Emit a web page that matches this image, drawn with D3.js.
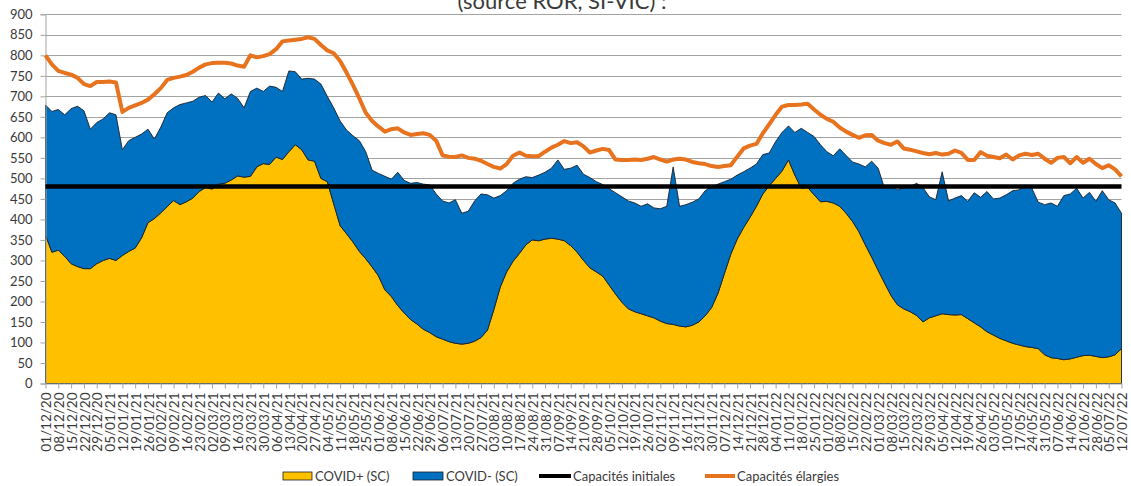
<!DOCTYPE html>
<html><head><meta charset="utf-8">
<script src="https://cdn.jsdelivr.net/npm/d3@7"></script>
<style>body{margin:0;background:#fff}svg{display:block}text{font-family:Lato,"Open Sans",sans-serif}</style>
</head><body><svg id="c" width="1131" height="486"></svg>
<script>
// Weekly x-axis labels
const weekLabels=["01/12/20","08/12/20","15/12/20","22/12/20","29/12/20","05/01/21","12/01/21","19/01/21","26/01/21","02/02/21","09/02/21","16/02/21","23/02/21","02/03/21","09/03/21","16/03/21","23/03/21","30/03/21","06/04/21","13/04/21","20/04/21","27/04/21","04/05/21","11/05/21","18/05/21","25/05/21","01/06/21","08/06/21","15/06/21","22/06/21","29/06/21","06/07/21","13/07/21","20/07/21","27/07/21","03/08/21","10/08/21","17/08/21","24/08/21","31/08/21","07/09/21","14/09/21","21/09/21","28/09/21","05/10/21","12/10/21","19/10/21","26/10/21","02/11/21","09/11/21","16/11/21","23/11/21","30/11/21","07/12/21","14/12/21","21/12/21","28/12/21","04/01/22","11/01/22","18/01/22","25/01/22","01/02/22","08/02/22","15/02/22","22/02/22","01/03/22","08/03/22","15/03/22","22/03/22","29/03/22","05/04/22","12/04/22","19/04/22","26/04/22","03/05/22","10/05/22","17/05/22","24/05/22","31/05/22","07/06/22","14/06/22","21/06/22","28/06/22","05/07/22","12/07/22"];
const yTicks=[0,50,100,150,200,250,300,350,400,450,500,550,600,650,700,750,800,850,900];
// Samples twice a week (index i = week i/2)
const covidPos=[362,320,325,310,292,285,280,280,292,300,
305,300,312,322,330,355,392,402,416,431,
446,436,443,452,468,478,474,486,488,496,
506,503,505,528,536,534,552,546,565,582,
570,545,542,500,492,438,385,365,345,322,
304,284,262,228,212,190,172,156,145,132,
124,114,108,102,98,96,98,103,112,130,
180,235,272,298,317,338,350,348,352,354,
352,348,336,320,300,282,272,262,240,218,
198,182,175,170,165,160,152,146,144,140,
138,142,150,165,185,220,268,315,352,380,
405,432,462,482,500,518,545,508,476,478,
460,443,444,440,432,415,395,370,338,308,
276,245,215,192,182,175,166,150,160,165,
170,168,167,168,158,148,138,126,118,110,
104,98,94,90,88,85,70,63,61,58,
60,64,68,69,66,63,65,70,85];
const covidNeg=[317,343,343,345,378,391,385,340,344,345,
355,355,258,270,270,253,228,194,209,229,
226,244,241,236,230,224,212,222,206,210,
189,169,207,192,176,191,170,166,197,178,
172,199,200,230,208,234,255,253,259,270,
261,236,250,277,286,325,323,332,345,354,
360,348,337,338,350,319,322,342,350,330,
272,223,198,190,181,166,152,160,163,171,
193,174,189,212,210,220,220,223,235,247,
257,263,265,262,273,268,274,286,384,292,
298,300,300,305,295,266,224,183,156,136,
120,103,96,80,90,94,83,104,146,134,
142,139,121,115,140,141,145,165,190,234,
249,231,267,280,296,305,322,328,295,283,
346,277,285,290,286,317,316,342,332,342,
356,372,378,394,388,357,366,377,371,400,
402,412,384,397,378,407,383,370,330];
const capElargies=[800,778,762,757,753,745,730,725,735,735,
736,734,662,672,678,684,692,705,720,740,
745,748,752,760,770,778,781,782,782,780,
775,772,800,795,798,803,815,834,836,838,
840,844,840,825,812,805,786,758,728,695,
660,640,626,614,620,622,612,606,608,610,
606,592,556,553,552,556,550,548,543,535,
528,524,535,555,563,555,554,554,565,575,
582,591,586,588,578,563,568,572,569,546,
545,545,546,545,548,552,546,541,546,548,
546,540,537,535,530,528,530,532,553,573,
580,584,610,632,655,675,679,679,680,682,
668,655,645,638,624,614,606,599,605,606,
592,586,582,590,573,570,566,562,559,562,
558,560,568,562,545,545,564,555,552,549,
558,546,556,560,557,560,548,538,550,552,
537,552,538,548,535,525,532,522,505];
const capInitiales=480;
const seriesNames=["COVID+ (SC)","COVID- (SC)","Capacités initiales","Capacités élargies"];
const colors={pos:"#FFC000",neg:"#0070C0",init:"#000000",elarg:"#E8731F",outline:"#17202c",grid:"#a3a3a3",text:"#3a3a3a"};

const svg=d3.select("#c");
const x=d3.scaleLinear().domain([0,weekLabels.length-1]).range([45.5,1121.5]);
const y=d3.scaleLinear().domain([0,900]).range([383.5,14.3]);

const table=covidPos.map((p,i)=>({w:i/2,pos:p,neg:covidNeg[i],el:capElargies[i]}));
const stack=d3.stack().keys(["pos","neg"])(table);

// title (cut at top as in the source image)
svg.append("text").attr("x",562).attr("y",9).attr("text-anchor","middle")
  .attr("font-size",22).attr("fill",colors.text).text("(source ROR, SI-VIC) :");

// gridlines
svg.append("g").selectAll("line").data(yTicks.filter(t=>t>0)).join("line")
  .attr("x1",45.5).attr("x2",1121.5).attr("y1",d=>Math.round(y(d))+0.5).attr("y2",d=>Math.round(y(d))+0.5)
  .attr("stroke",colors.grid).attr("stroke-width",1);

// areas
const area=d3.area().x(d=>x(d.data.w)).y0(d=>y(d[0])).y1(d=>y(d[1]));
svg.append("g").selectAll("path").data(stack).join("path")
  .attr("d",area).attr("fill",(d,i)=>i===0?colors.pos:colors.neg)
  .attr("stroke",colors.outline).attr("stroke-width",0.9).attr("stroke-linejoin","round");

// axes
const yAxis=d3.axisLeft(y).tickValues(yTicks).tickSize(5).tickPadding(8);
const gy=svg.append("g").attr("transform","translate(45.5,0)").call(yAxis);
gy.select(".domain").attr("stroke",colors.grid);
gy.selectAll(".tick line").attr("stroke",colors.grid);
gy.selectAll(".tick text").attr("font-size",13).attr("fill",colors.text).attr("font-family","Lato");

const xAxis=d3.axisBottom(x).tickValues(d3.range(weekLabels.length)).tickFormat(i=>weekLabels[i]).tickSize(5).tickSizeOuter(0);
const gx=svg.append("g").attr("transform","translate(0,383.5)").call(xAxis);
gx.select(".domain").attr("stroke",colors.grid);
gx.selectAll(".tick line").attr("stroke",colors.grid);
gx.selectAll(".tick text").attr("font-size",13.5).attr("fill",colors.text).attr("font-family","Lato")
  .attr("transform","rotate(-90)").attr("text-anchor","end").attr("x",-9).attr("y",0).attr("dy","0.38em");

// capacités initiales
svg.append("line").attr("x1",x(0)).attr("x2",x(weekLabels.length-1))
  .attr("y1",y(capInitiales)).attr("y2",y(capInitiales))
  .attr("stroke",colors.init).attr("stroke-width",4.5);

// capacités élargies
svg.append("path").datum(table).attr("fill","none").attr("stroke",colors.elarg).attr("stroke-width",4)
  .attr("stroke-linejoin","round").attr("d",d3.line().x(d=>x(d.w)).y(d=>y(d.el)));

// legend
const lg=svg.append("g").attr("font-size",13).attr("fill",colors.text);
const ly=476;
lg.append("rect").attr("x",283).attr("y",ly-4).attr("width",29).attr("height",8).attr("fill",colors.pos).attr("stroke",colors.outline).attr("stroke-width",0.8);
lg.append("text").attr("x",315).attr("y",ly).attr("dy","0.35em").text(seriesNames[0]);
lg.append("rect").attr("x",413).attr("y",ly-4).attr("width",30).attr("height",8).attr("fill",colors.neg).attr("stroke",colors.outline).attr("stroke-width",0.8);
lg.append("text").attr("x",446).attr("y",ly).attr("dy","0.35em").text(seriesNames[1]);
lg.append("line").attr("x1",539).attr("x2",571).attr("y1",ly).attr("y2",ly).attr("stroke",colors.init).attr("stroke-width",4);
lg.append("text").attr("x",573).attr("y",ly).attr("dy","0.35em").text(seriesNames[2]);
lg.append("line").attr("x1",705).attr("x2",735).attr("y1",ly).attr("y2",ly).attr("stroke",colors.elarg).attr("stroke-width",4);
lg.append("text").attr("x",737).attr("y",ly).attr("dy","0.35em").text(seriesNames[3]);
</script></body></html>
